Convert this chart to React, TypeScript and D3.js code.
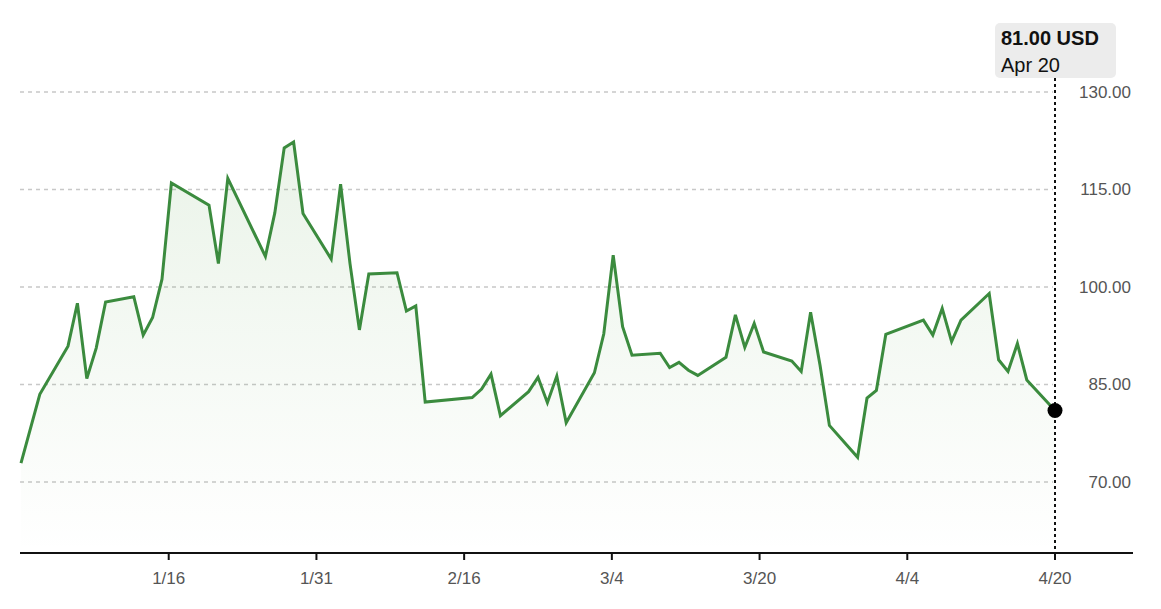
import * as d3 from "d3";

const dates = [
  "2022-12-31", "2023-01-02", "2023-01-05", "2023-01-06", "2023-01-07", "2023-01-08",
  "2023-01-09", "2023-01-12", "2023-01-13", "2023-01-14", "2023-01-15", "2023-01-16",
  "2023-01-20", "2023-01-21", "2023-01-22", "2023-01-26", "2023-01-27", "2023-01-28",
  "2023-01-29", "2023-01-30", "2023-02-02", "2023-02-03", "2023-02-04", "2023-02-05",
  "2023-02-06", "2023-02-09", "2023-02-10", "2023-02-11", "2023-02-12", "2023-02-17",
  "2023-02-18", "2023-02-19", "2023-02-20", "2023-02-23", "2023-02-24", "2023-02-25",
  "2023-02-26", "2023-02-27", "2023-03-02", "2023-03-03", "2023-03-04", "2023-03-05",
  "2023-03-06", "2023-03-09", "2023-03-10", "2023-03-11", "2023-03-12", "2023-03-13",
  "2023-03-16", "2023-03-17", "2023-03-18", "2023-03-19", "2023-03-20", "2023-03-23",
  "2023-03-24", "2023-03-25", "2023-03-26", "2023-03-27", "2023-03-30", "2023-03-31",
  "2023-04-01", "2023-04-02", "2023-04-06", "2023-04-07", "2023-04-08", "2023-04-09",
  "2023-04-10", "2023-04-13", "2023-04-14", "2023-04-15", "2023-04-16", "2023-04-17",
  "2023-04-20",
];

const prices = [
  72.9, 83.5, 90.9, 97.5, 85.9, 90.6,
  97.7, 98.5, 92.6, 95.3, 101.2, 116.0,
  112.6, 103.6, 116.7, 104.7, 111.4, 121.4,
  122.3, 111.3, 104.3, 115.8, 103.6, 93.4,
  102.0, 102.2, 96.3, 97.1, 82.3, 83.0,
  84.3, 86.6, 80.2, 83.9, 86.1, 82.2,
  86.3, 79.1, 86.8, 92.8, 104.9, 93.9,
  89.5, 89.8, 87.6, 88.4, 87.2, 86.4,
  89.2, 95.7, 90.7, 94.4, 90.0, 88.6,
  87.0, 96.1, 88.0, 78.7, 73.8, 82.9,
  84.1, 92.7, 94.9, 92.6, 96.7, 91.6,
  94.9, 99.0, 88.8, 87.0, 91.3, 85.7,
  81.0,
];

const yTicks = [70, 85, 100, 115, 130];
const xTickLabels = ["1/16", "1/31", "2/16", "3/4", "3/20", "4/4", "4/20"];

const W = 1161;
const H = 609;
const FONT = "'Liberation Sans', Arial, Helvetica, sans-serif";

export default function App() {
  const parse = d3.timeParse("%Y-%m-%d");
  const data = dates.map((d, i) => ({ date: parse(d) as Date, value: prices[i] }));
  const first = data[0].date;
  const last = data[data.length - 1].date;

  const x = d3.scaleTime().domain([first, last]).range([21, 1055]);
  const y = d3.scaleLinear().domain([70, 130]).range([482, 92]);
  const axisY = 553;

  const line = d3
    .line<{ date: Date; value: number }>()
    .x((d) => x(d.date))
    .y((d) => y(d.value));
  const area = d3
    .area<{ date: Date; value: number }>()
    .x((d) => x(d.date))
    .y0(axisY)
    .y1((d) => y(d.value));

  // ticks sit at even divisions of the date domain
  const span = last.getTime() - first.getTime();
  const xTicks = xTickLabels.map((label, i) => ({
    label,
    pos: x(new Date(first.getTime() + ((i + 1) * span) / xTickLabels.length)),
  }));

  const lastPt = data[data.length - 1];
  const cx = x(lastPt.date);
  const cy = y(lastPt.value);

  return (
    <svg
      width={W}
      height={H}
      style={{ position: "absolute", left: 0, top: 0, background: "#fff" }}
      fontFamily={FONT}
    >
      <defs>
        <linearGradient id="fade" gradientUnits="userSpaceOnUse" x1="0" y1={y(125)} x2="0" y2={axisY}>
          <stop offset="0" stopColor="#4a9a3c" stopOpacity={0.12} />
          <stop offset="1" stopColor="#4a9a3c" stopOpacity={0} />
        </linearGradient>
      </defs>

      {/* grid */}
      {yTicks.map((t) => (
        <g key={t}>
          <line
            x1={20}
            x2={1053}
            y1={y(t)}
            y2={y(t)}
            stroke="#c8c8c8"
            strokeWidth={1.5}
            strokeDasharray="4,4"
          />
          <text
            x={1131}
            y={y(t)}
            textAnchor="end"
            dominantBaseline="central"
            fontSize={17}
            fill="#555"
          >
            {t.toFixed(2)}
          </text>
        </g>
      ))}

      <path d={area(data) ?? ""} fill="url(#fade)" />
      <path
        d={line(data) ?? ""}
        fill="none"
        stroke="#3b8b3e"
        strokeWidth={3}
        strokeLinejoin="miter"
      />

      {/* x axis */}
      <line x1={20} x2={1133} y1={axisY} y2={axisY} stroke="#111" strokeWidth={2} />
      {xTicks.map((t) => (
        <g key={t.label} transform={`translate(${t.pos},${axisY})`}>
          <line y1={0} y2={7} stroke="#111" strokeWidth={2} />
          <text y={31} textAnchor="middle" fontSize={17} fill="#555">
            {t.label}
          </text>
        </g>
      ))}

      {/* crosshair + tooltip */}
      <line
        x1={cx}
        x2={cx}
        y1={78}
        y2={axisY}
        stroke="#111"
        strokeWidth={2}
        strokeDasharray="3,3"
      />
      <circle cx={cx} cy={cy} r={7.5} fill="#000" />
      <rect x={995} y={23} width={121} height={55} rx={5} fill="#ececec" />
      <text x={1001} y={45} fontSize={20} fontWeight={600} fill="#111">
        {lastPt.value.toFixed(2)} USD
      </text>
      <text x={1001} y={71.5} fontSize={20} fill="#111">
        {d3.timeFormat("%b %-d")(lastPt.date)}
      </text>
    </svg>
  );
}
